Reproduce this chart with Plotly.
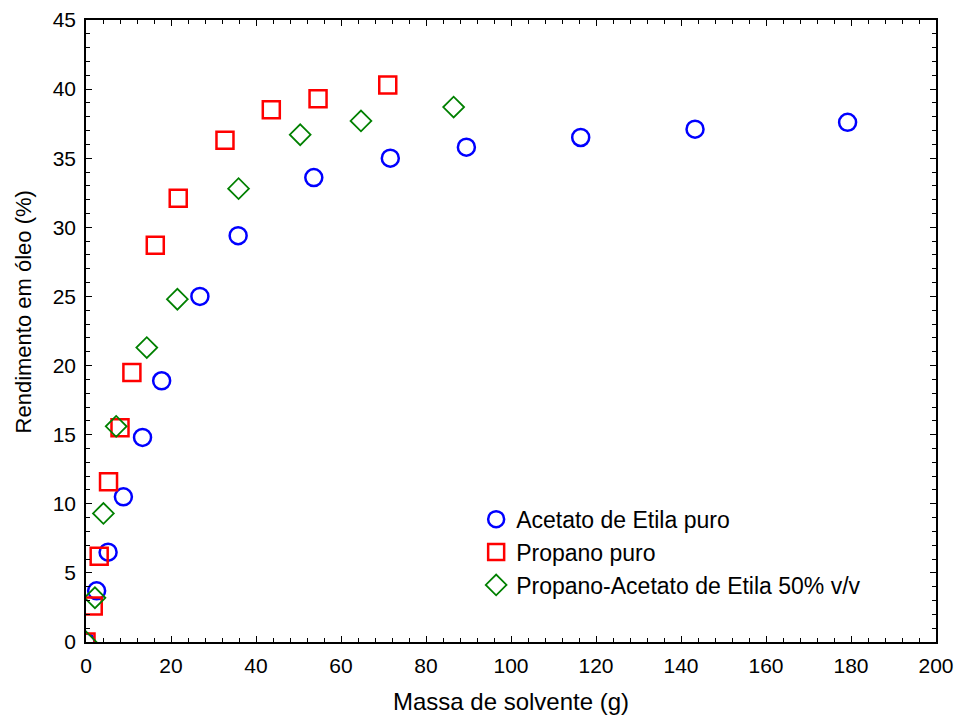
import plotly.graph_objects as go

acetato_x = [0, 2.5, 5.2, 8.8, 13.3, 17.8, 26.8, 35.8, 53.6, 71.6, 89.5, 116.4, 143.3, 179.2]
acetato_y = [0, 3.7, 6.5, 10.5, 14.8, 18.9, 25.0, 29.4, 33.6, 35.0, 35.8, 36.5, 37.1, 37.6]

propano_x = [0, 1.7, 3.1, 5.3, 8.0, 10.8, 16.3, 21.7, 32.7, 43.6, 54.6, 71.0]
propano_y = [0, 2.6, 6.2, 11.6, 15.5, 19.5, 28.7, 32.1, 36.3, 38.5, 39.3, 40.3]

mistura_x = [0, 2.1, 4.1, 7.1, 14.3, 21.5, 35.9, 50.4, 64.7, 86.5]
mistura_y = [0, 3.2, 9.3, 15.6, 21.3, 24.8, 32.8, 36.7, 37.7, 38.7]

names = ["Acetato de Etila puro", "Propano puro", "Propano-Acetato de Etila 50% v/v"]
x_title = "Massa de solvente (g)"
y_title = "Rendimento em óleo (%)"

fig = go.Figure()
fig.add_trace(go.Scatter(x=acetato_x, y=acetato_y, mode="markers", name=names[0],
                         marker=dict(symbol="circle-open", size=17, color="#0000ff", line=dict(width=2.5))))
fig.add_trace(go.Scatter(x=propano_x, y=propano_y, mode="markers", name=names[1],
                         marker=dict(symbol="square-open", size=17, color="#ff0000", line=dict(width=2.5))))
fig.add_trace(go.Scatter(x=mistura_x, y=mistura_y, mode="markers", name=names[2],
                         marker=dict(symbol="diamond-open", size=16, color="#008000", line=dict(width=1.8))))

font = "Liberation Sans, Arial, sans-serif"
axis_common = dict(showline=True, linecolor="black", linewidth=1.5, mirror="ticks",
                   ticks="inside", ticklen=6, tickcolor="black", showgrid=False, zeroline=False,
                   automargin=False,
                   tickfont=dict(family=font, size=21, color="black"))

fig.update_xaxes(range=[0, 200], dtick=20, ticklabelstandoff=4,
                 title=dict(text=x_title, font=dict(family=font, size=24, color="black"), standoff=17),
                 minor=dict(dtick=4, ticks="inside", ticklen=4, tickcolor="black"), **axis_common)
fig.update_yaxes(range=[0, 45], dtick=5, ticklabelstandoff=4,
                 minor=dict(dtick=1, ticks="inside", ticklen=4, tickcolor="black"), **axis_common)

fig.add_annotation(text=y_title, xref="paper", yref="paper", x=-0.074, y=0.53,
                   xanchor="center", yanchor="middle", textangle=-90, showarrow=False,
                   font=dict(family=font, size=22, color="black"))

fig.update_layout(
    width=959, height=719,
    margin=dict(l=86, r=23, t=20, b=77),
    plot_bgcolor="white", paper_bgcolor="white",
    font=dict(family=font, size=21, color="black"),
    legend=dict(x=0.459, y=0.232, xanchor="left", yanchor="top", bgcolor="rgba(0,0,0,0)",
                font=dict(family=font, size=23, color="black"), tracegroupgap=0, itemsizing="trace"),
)

fig.write_html("out.html")
